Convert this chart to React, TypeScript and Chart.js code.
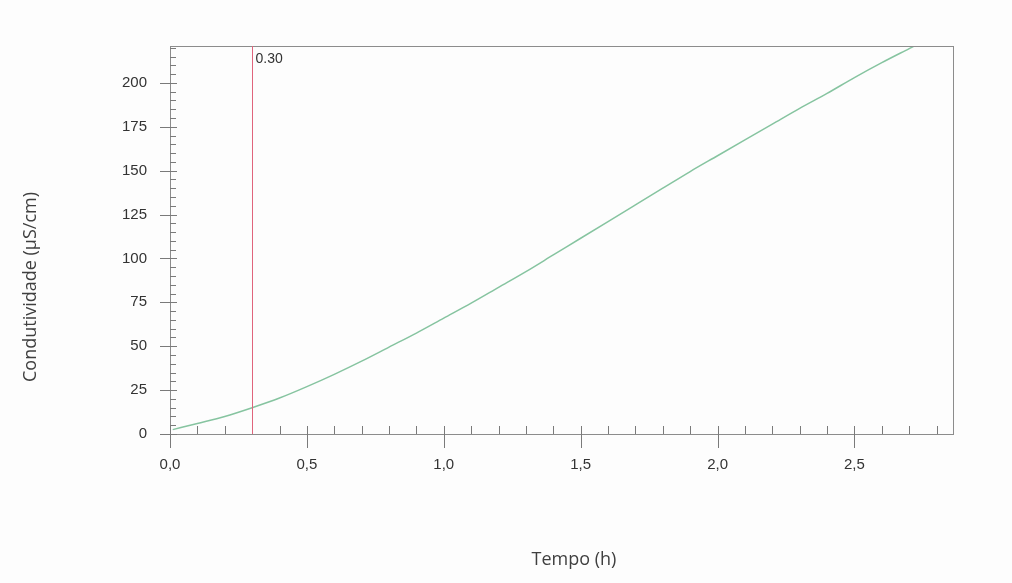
import React, { useEffect, useRef } from "react";
import { Chart, registerables } from "chart.js";

Chart.register(...registerables);

// Data
const timeH = [0.01, 0.1, 0.2, 0.3, 0.4, 0.5, 0.6, 0.7, 0.8, 0.9, 1.0, 1.1, 1.2, 1.3, 1.4, 1.5, 1.6, 1.7, 1.8, 1.9, 2.0, 2.1, 2.2, 2.3, 2.4, 2.5, 2.6, 2.7, 2.75];
const conductivity = [2.5, 6, 10, 15, 20.5, 27, 34, 41.5, 49.5, 57.5, 66, 74.5, 83.5, 92.5, 102, 111.5, 121, 130.5, 140, 149.5, 158.5, 167.5, 176.5, 185.5, 194, 203, 211.5, 219.5, 223.5];
const markerTime = 0.3;
const markerLabel = "0.30";
const xTitle = "Tempo (h)";
const yTitle = "Condutividade (µS/cm)";
const xMin = 0;
const xMax = 2.86;
const yMin = 0;
const yMax = 221;
const xMajorStep = 0.5;
const xMinorStep = 0.1;
const yMajorStep = 25;
const yMinorStep = 5;

const overlayPlugin = {
  id: "overlay",
  afterDraw(chart: any) {
    const { ctx, chartArea, scales } = chart;
    const xs = scales.x;
    const ys = scales.y;
    const { left, right, top, bottom } = chartArea;
    ctx.save();
    // frame
    ctx.strokeStyle = "#8c8c8c";
    ctx.lineWidth = 1;
    ctx.strokeRect(Math.round(left) + 0.5, Math.round(top) + 0.5, Math.round(right - left), Math.round(bottom - top));
    // ticks
    ctx.strokeStyle = "#7a7a7a";
    ctx.beginPath();
    const nX = Math.round((xMax - xMin) / xMinorStep);
    for (let i = 0; i <= nX; i++) {
      const v = xMin + i * xMinorStep;
      if (v > xMax + 1e-9) break;
      const px = Math.round(xs.getPixelForValue(v)) + 0.5;
      const major = Math.abs(v / xMajorStep - Math.round(v / xMajorStep)) < 1e-6;
      if (major) {
        ctx.moveTo(px, bottom - 8);
        ctx.lineTo(px, bottom + 14);
      } else {
        ctx.moveTo(px, bottom - 8);
        ctx.lineTo(px, bottom);
      }
    }
    const nY = Math.round((yMax - yMin) / yMinorStep);
    for (let i = 0; i <= nY; i++) {
      const v = yMin + i * yMinorStep;
      const py = Math.round(ys.getPixelForValue(v)) + 0.5;
      const major = v % yMajorStep === 0;
      if (major) {
        ctx.moveTo(left - 10, py);
        ctx.lineTo(left + 7, py);
      } else {
        ctx.moveTo(left, py);
        ctx.lineTo(left + 6, py);
      }
    }
    ctx.stroke();
    // marker line
    const mx = Math.round(xs.getPixelForValue(markerTime)) + 0.5;
    ctx.strokeStyle = "#e0647c";
    ctx.lineWidth = 1;
    ctx.beginPath();
    ctx.moveTo(mx, top);
    ctx.lineTo(mx, bottom);
    ctx.stroke();
    ctx.fillStyle = "#333333";
    ctx.font = "14px 'Liberation Sans', Arial, sans-serif";
    ctx.textAlign = "left";
    ctx.textBaseline = "middle";
    ctx.fillText(markerLabel, mx + 3, top + 13);
    // axis titles
    ctx.fillStyle = "#3f3f3f";
    ctx.font = "18px 'Open Sans', sans-serif";
    ctx.textAlign = "center";
    ctx.textBaseline = "alphabetic";
    ctx.fillText(xTitle, 574, 565);
    ctx.translate(36, 287);
    ctx.rotate(-Math.PI / 2);
    ctx.fillText(yTitle, 0, 0);
    ctx.restore();
  },
};

export default function App() {
  const canvasRef = useRef<HTMLCanvasElement | null>(null);

  useEffect(() => {
    document.body.style.margin = "0";
    const canvas = canvasRef.current;
    if (!canvas) return;
    const points = timeH.map((t, i) => ({ x: t, y: conductivity[i] }));
    const tickFont = { family: "'Liberation Sans', Arial, sans-serif", size: 15 };
    const chart = new Chart(canvas, {
      type: "line",
      data: {
        datasets: [
          {
            data: points,
            borderColor: "#86c4a0",
            borderWidth: 1.5,
            pointRadius: 0,
            cubicInterpolationMode: "monotone",
            fill: false,
          },
        ],
      },
      options: {
        animation: false,
        responsive: false,
        maintainAspectRatio: false,
        parsing: false,
        layout: { padding: { left: 0, right: 59, top: 46, bottom: 0 } },
        plugins: {
          legend: { display: false },
          tooltip: { enabled: false },
          title: { display: false },
        },
        scales: {
          x: {
            type: "linear",
            min: xMin,
            max: xMax,
            grid: { display: false },
            border: { display: false },
            ticks: {
              stepSize: xMajorStep,
              includeBounds: false,
              autoSkip: false,
              maxRotation: 0,
              padding: 14,
              color: "#333333",
              font: tickFont,
              callback: (v: any) => Number(v).toFixed(1).replace(".", ","),
            },
            afterFit: (scale: any) => {
              scale.height = 149;
            },
          },
          y: {
            type: "linear",
            min: yMin,
            max: yMax,
            grid: { display: false },
            border: { display: false },
            ticks: {
              stepSize: yMajorStep,
              includeBounds: false,
              padding: 15,
              color: "#333333",
              font: tickFont,
            },
            afterFit: (scale: any) => {
              scale.width = 170;
            },
          },
        },
      },
      plugins: [overlayPlugin],
    } as any);
    return () => chart.destroy();
  }, []);

  return (
    <div style={{ position: "absolute", left: 0, top: 0, width: 1012, height: 583, background: "#fdfdfd" }}>
      <canvas ref={canvasRef} width={1012} height={583} style={{ width: 1012, height: 583, display: "block" }} />
    </div>
  );
}
